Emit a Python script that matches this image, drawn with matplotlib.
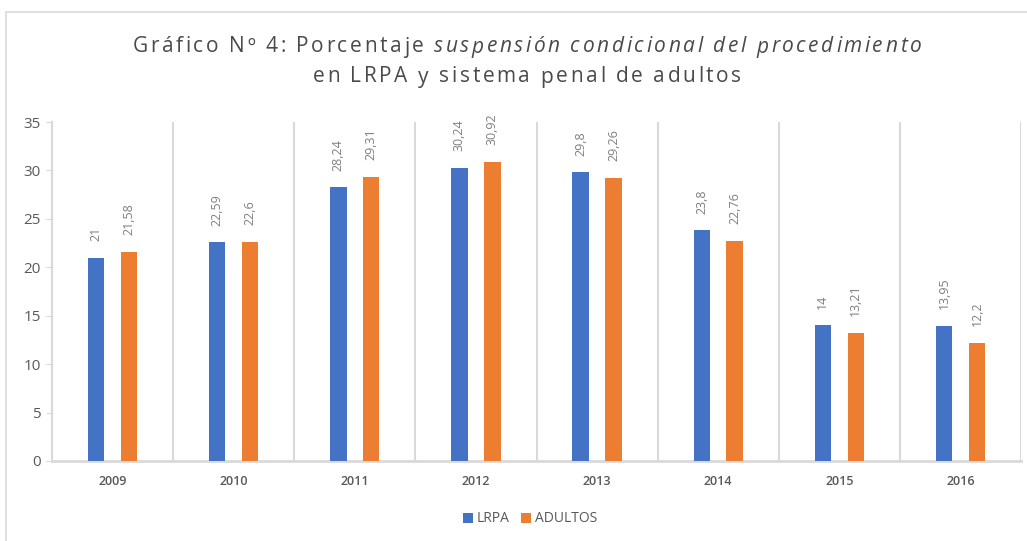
import matplotlib.pyplot as plt
import numpy as np
from matplotlib.patches import Rectangle

years = ['2009', '2010', '2011', '2012', '2013', '2014', '2015', '2016']
lrpa = [21, 22.59, 28.24, 30.24, 29.8, 23.8, 14, 13.95]
adultos = [21.58, 22.6, 29.31, 30.92, 29.26, 22.76, 13.21, 12.2]
series_names = ['LRPA', 'ADULTOS']

BLUE = '#4472C4'
ORANGE = '#ED7D31'
GRID = '#d9d9d9'
TXT = '#595959'

plt.rcParams['font.family'] = ['Open Sans', 'DejaVu Sans']

def fmt(v):
    s = ('%.2f' % v).rstrip('0').rstrip('.')
    return s.replace('.', ',')

fig = plt.figure(figsize=(10.27, 5.41), dpi=100)
ax = fig.add_axes([52 / 1027, 1 - 461 / 541, (1021 - 52) / 1027, (461 - 122) / 541])

# outer chart frame
fig.patches.append(Rectangle((6 / 1027, -0.1), 1.2, 1 - 12 / 541 + 0.1, transform=fig.transFigure,
                             fill=False, edgecolor=GRID, lw=1.2))

x = np.arange(len(years))
off = 0.136
w = 0.135
b1 = ax.bar(x - off, lrpa, w, color=BLUE, label=series_names[0], zorder=3)
b2 = ax.bar(x + off, adultos, w, color=ORANGE, label=series_names[1], zorder=3)

for bars, vals in ((b1, lrpa), (b2, adultos)):
    for r, v in zip(bars, vals):
        ax.annotate(fmt(v), (r.get_x() + r.get_width() / 2, v), xytext=(0, 12),
                    textcoords='offset points', rotation=90, ha='center', va='bottom',
                    fontsize=9, color='#7f7f7f')

ax.set_xlim(-0.5, len(years) - 0.5)
ax.set_ylim(0, 35)
ax.set_yticks(range(0, 36, 5))
ax.set_xticks(x)
ax.set_xticklabels(years, fontsize=9, color=TXT, fontweight='semibold')
ax.set_xticks(np.arange(-0.5, len(years), 1), minor=True)
ax.grid(axis='x', which='minor', color=GRID, lw=1.5, zorder=0)
ax.tick_params(axis='x', which='both', length=0, pad=10)
ax.tick_params(axis='y', length=4, color=GRID, labelsize=11, labelcolor=TXT, pad=4)
for s in ('top', 'right'):
    ax.spines[s].set_visible(False)
ax.spines['left'].set_color(GRID)
ax.spines['left'].set_linewidth(1.5)
ax.spines['bottom'].set_color(GRID)
ax.spines['bottom'].set_linewidth(2)
ax.set_zorder(1)

ax.legend(loc='center', bbox_to_anchor=(530 / 1027, 1 - 519 / 541), bbox_transform=fig.transFigure,
          ncol=2, frameon=False, fontsize=10, labelcolor=TXT, handlelength=0.7, handleheight=0.7,
          handletextpad=0.3, columnspacing=0.8)

# title: letter-spaced, with an italic part
tsize = 15
tcol = '#4a4a4a'
track = 2.6
r = fig.canvas.get_renderer()

def prefix_w(s, st):
    if not s:
        return 0.0
    t = fig.text(0, 0, s + '|', fontsize=tsize, style=st)
    bar = fig.text(0, 0, '|', fontsize=tsize, style=st)
    wd = t.get_window_extent(r).width - bar.get_window_extent(r).width
    t.remove()
    bar.remove()
    return wd

def tracked_line(parts, cx, y):
    chars = []
    for s, st in parts:
        for i, c in enumerate(s):
            chars.append((c, st, prefix_w(s[:i], st)))
    # absolute positions
    xs = []
    base = 0.0
    n = 0
    for s, st in parts:
        for i in range(len(s)):
            c, stc, pw = chars[n]
            xs.append(base + pw + n * track)
            n += 1
        base += prefix_w(s, st)
    total = base + (n - 1) * track
    x0 = cx - total / 2
    for (c, st, _), xx in zip(chars, xs):
        fig.text((x0 + xx) / 1027, y, c, fontsize=tsize, style=st, color=tcol, va='center')

tracked_line([('Gráfico Nº 4: Porcentaje ', 'normal'),
              ('suspensión condicional del procedimiento', 'italic')], 527, 1 - 47 / 541)
tracked_line([('en LRPA y sistema penal de adultos', 'normal')], 527, 1 - 77 / 541)

fig.savefig('out.png', dpi=100)
